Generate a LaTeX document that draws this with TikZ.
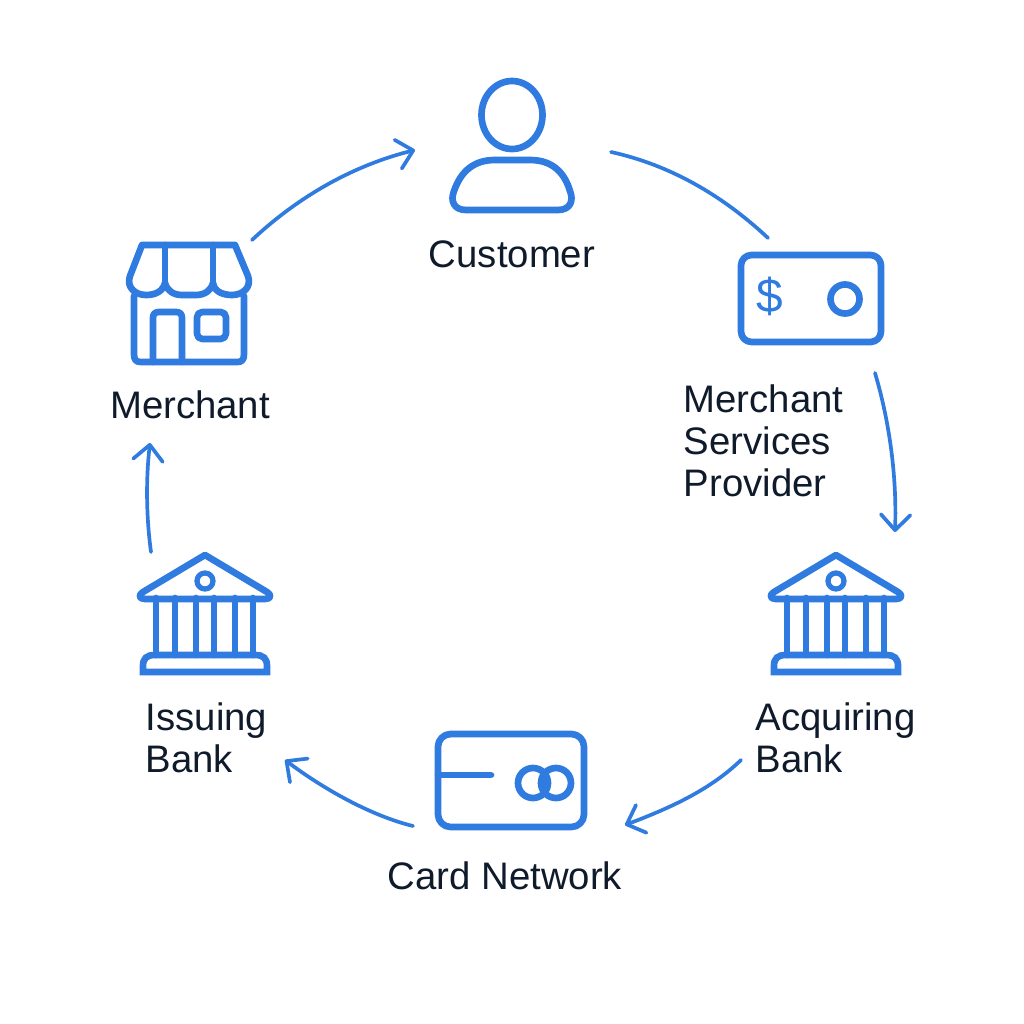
\documentclass[tikz,border=0pt]{standalone}
\usepackage{fontspec}
\setmainfont{Liberation Sans}
\usetikzlibrary{arrows.meta}
\definecolor{iconblue}{HTML}{2F7BDF}
\definecolor{labelink}{HTML}{0F1A2B}
\tikzset{
  icon/.style={draw=iconblue,line width=1.9pt,line join=round,line cap=round},
  flow/.style={draw=iconblue,line width=1.05pt,line cap=round},
  label/.style={inner sep=0pt,text=labelink,font=\fontsize{10.9}{11.9}\selectfont,align=left},
  bankicon/.pic={
    \draw[icon] (0,-43)--(-62,-6)..controls (-67,-3) and (-66,1)..(-60,1)--(60,1)..controls (66,1) and (67,-3)..(62,-6)--cycle;
    \draw[icon,line width=1.5pt] (0,-17) circle (8);
    \foreach \colx in {-49,-30,-9,9,30,48}
      \draw[icon] (\colx,0)--(\colx,57);
    \draw[icon,line join=miter] (-62,74)--(-62,68)..controls (-62,60) and (-58,57)..(-50,57)--(50,57)..controls (58,57) and (62,60)..(62,68)--(62,74)--cycle;
  }
}
\begin{document}
\begin{tikzpicture}[x=0.01cm,y=-0.01cm]
\useasboundingbox (0,0) rectangle (1024,1024);
% customer
\draw[icon] (512,115) ellipse (30.5 and 34);
\draw[icon] (466,210)..controls (454,210) and (450,201)..(454,191)..controls (461,171) and (474,160)..(495,160)--(530,160)..controls (551,160) and (564,171)..(570,191)..controls (574,201) and (570,210)..(558,210)--cycle;
% merchant
\draw[icon] (142,245)--(235,245)--(248,276)..controls (252,287) and (243,295)..(232,295)..controls (222,295) and (214,291)..(213,283)..controls (211,291) and (204,295)..(196,295)--(182,295)..controls (174,295) and (167,291)..(165,283)..controls (163,291) and (156,295)..(146,295)..controls (135,295) and (126,287)..(130,276)--cycle;
\draw[icon] (165,245)--(165,283) (213,245)--(213,283);
\draw[icon] (134,296)--(134,354)..controls (134,360) and (136,362)..(141,362)--(237,362)..controls (242,362) and (244,360)..(244,354)--(244,296);
\draw[icon] (153,362)--(153,318)..controls (153,314) and (155,312)..(159,312)--(176,312)..controls (180,312) and (182,314)..(182,318)--(182,362);
\draw[icon,rounded corners=1.5pt] (197,312) rectangle (226,339);
% services
\draw[icon,rounded corners=3pt] (741,255) rectangle (881,342);
\node[inner sep=0pt,text=iconblue,font=\fontsize{13.6}{15}\selectfont] (dollar) at (770,296) {\$};
\draw[icon] (845,299) circle (14.5);
% card
\draw[icon,rounded corners=3.6pt] (438,734) rectangle (584,827);
\draw[icon] (438,775)--(491,775);
\draw[icon] (533,783) circle (15) (556,783) circle (15);
% banks
\pic at (836,598) {bankicon};
\pic at (205,598) {bankicon};
% labels
\node[label] (customer) at (512,254) {Customer};
\node[label] (merchant) at (190,405) {Merchant};
\node[label,anchor=north west] (provider) at (683,384) {Merchant\\Services\\Provider};
\node[label,anchor=north west] (acquiring) at (755,702) {Acquiring\\Bank};
\node[label,anchor=north west] (issuing) at (145,702) {Issuing\\Bank};
\node[label] (network) at (505,876) {Card Network};
% flow
\coordinate (c1a) at (611,152); \coordinate (c1b) at (768,238);
\coordinate (c2a) at (875,373); \coordinate (c2b) at (895,532);
\coordinate (c3a) at (741,760); \coordinate (c3b) at (625,825);
\coordinate (c4a) at (413,826); \coordinate (c4b) at (285,760);
\coordinate (c5a) at (151,552); \coordinate (c5b) at (150,443);
\coordinate (c6a) at (252,240); \coordinate (c6b) at (415,150);
\tikzset{>={Straight Barb[length=4.4pt,width=8.4pt,line width=1.05pt,round]}}
\draw[flow] (c1a)..controls (670,165) and (722,195)..(c1b);
\draw[flow,->] (c2a)..controls (889,420) and (897,475)..(c2b);
\draw[flow,->] (c3a)..controls (710,790) and (670,808)..(c3b);
\draw[flow,->] (c4a)..controls (372,816) and (325,790)..(c4b);
\draw[flow,->] (c5a)..controls (146,515) and (146,478)..(c5b);
\draw[flow,->] (c6a)..controls (300,195) and (355,165)..(c6b);
\end{tikzpicture}
\end{document}
